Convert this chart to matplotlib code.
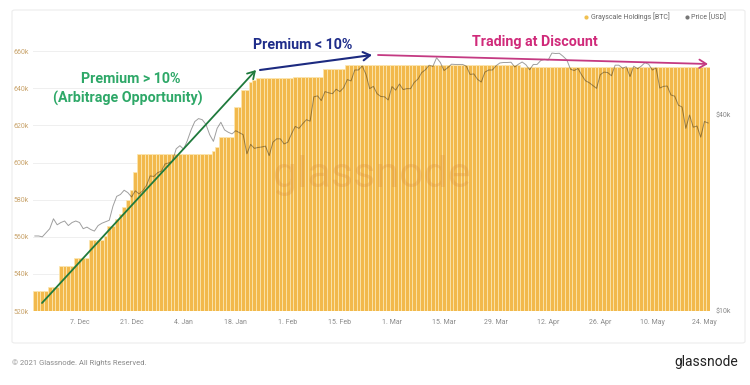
import matplotlib
matplotlib.use("Agg")
import matplotlib.pyplot as plt
import matplotlib.dates as mdates
import numpy as np
import pandas as pd
from matplotlib.lines import Line2D
from matplotlib.patches import FancyBboxPatch

plt.rcParams['font.family'] = ['Roboto', 'DejaVu Sans']

# Daily dates shown on the chart
dates = pd.date_range("2020-11-25", "2021-05-25", freq="D")

# Grayscale holdings (thousand BTC), read as steps: level and number of days it lasts
holdings_levels = [531.0, 533.0, 544.2, 548.5, 558.0, 560.5, 566.0, 569.5, 572.5, 576.0,
                   580.0, 585.0, 595.0, 604.5, 606.0, 608.3, 613.7, 629.8, 639.0, 643.3,
                   644.5, 645.5, 646.2, 650.3, 652.5, 651.3]
holdings_days = [4, 3, 4, 4, 4, 1, 2, 1, 1, 1,
                 1, 1, 1, 20, 1, 1, 4, 2, 2, 1,
                 1, 10, 8, 6, 47, 51]
holdings = np.repeat(holdings_levels, holdings_days)

# BTC price (thousand USD), daily
price = [
    17.0, 17.0, 16.9, 17.4, 17.9, 19.2,
    18.4, 18.7, 18.9, 18.3, 18.7, 18.9, 18.7, 17.9, 18.1, 17.8, 17.6, 18.3, 18.6, 18.8,
    19.0, 21.0, 22.5, 22.8, 23.5, 23.1, 22.4, 23.4, 22.9, 23.4, 24.3, 26.0, 25.9, 26.6,
    26.9, 28.3, 28.5,
    28.9, 31.5, 32.2, 31.4, 33.4, 36.0, 38.2, 39.0, 38.7, 37.4, 34.8, 33.2, 36.4, 38.0,
    36.0, 35.4, 35.0, 35.8, 35.3, 34.8, 30.4, 32.5, 31.6, 31.8, 31.9, 32.1, 30.0, 33.0,
    33.8, 33.8, 32.6,
    33.0, 35.0, 36.9, 36.4, 37.6, 38.7, 38.3, 45.5, 45.8, 44.3, 47.2, 46.8, 46.5, 48.0,
    47.2, 48.5, 51.4, 50.9, 55.0, 55.0, 56.6, 53.4, 48.2, 49.0, 46.5, 45.6, 45.5, 44.5,
    48.9, 47.7, 49.8, 47.9, 48.2, 48.2, 50.4, 51.6, 54.0, 55.1, 56.9, 56.4, 60.0, 58.0,
    54.8, 55.9, 57.3, 57.2, 57.2, 57.2, 56.5, 53.3, 53.5, 51.5, 50.5, 54.2, 55.0, 55.0,
    56.7, 57.8, 58.0,
    58.0, 58.1, 56.2, 57.3, 58.2, 57.1, 55.1, 57.2, 57.2, 58.8, 59.3, 59.0, 62.0, 61.8,
    61.9, 60.6, 59.1, 55.3, 54.8, 55.6, 53.1, 51.0, 50.3, 49.3, 48.3, 53.2, 54.2, 54.0,
    52.8, 56.9,
    56.9, 55.7, 56.3, 52.5, 56.5, 55.5, 56.5, 57.9, 57.3, 55.0, 55.8, 48.4, 49.0, 49.1,
    46.1, 45.7, 42.9, 42.3, 36.4, 40.0, 36.7, 37.0, 34.2, 38.2, 37.8,
]
price_usd = np.array(price) * 1000

left_ticks = [520, 540, 560, 580, 600, 620, 640, 660]
right_ticks = [10000, 40000]
right_labels = ["$10k", "$40k"]
xtick_dates = pd.date_range("2020-12-07", periods=13, freq="14D")

W, H = 750, 385
fig = plt.figure(figsize=(7.5, 3.85), dpi=100)


def fx(x):
    return x / W


def fy(y):
    return 1 - y / H


# card border
fig.add_artist(FancyBboxPatch((fx(12), fy(343)), fx(733), (333) / H,
                              boxstyle="round,pad=0,rounding_size=0.004",
                              transform=fig.transFigure, fc="none", ec="#ececec", lw=0.8))

ax = fig.add_axes([fx(33), fy(311), fx(677), (311 - 40) / H])
ax.bar(dates, holdings, width=1.0, color="#f2b94c", edgecolor="#fce7b2", linewidth=0.55,
       zorder=2)
ax.set_ylim(520, 666)
ax.set_xlim(pd.Timestamp("2020-11-24 12:00"), pd.Timestamp("2021-05-25 12:00"))
ax.set_yticks(left_ticks)
ax.set_yticklabels([f"{v}k" for v in left_ticks])
ax.grid(axis="y", color="#efefef", lw=0.7, zorder=0)
ax.set_axisbelow(True)
ax.tick_params(axis="y", length=0, pad=3, labelsize=5, labelcolor="#c9a46c")
ax.set_xticks(xtick_dates)
ax.xaxis.set_major_formatter(mdates.DateFormatter("%-d. %b"))
ax.tick_params(axis="x", length=0, pad=6, labelsize=5, labelcolor="#8a8a8a")
for s in ax.spines.values():
    s.set_visible(False)

# watermark
ax.text(0.5, 0.5, "glassnode", transform=ax.transAxes, ha="center", va="center",
        fontsize=31, color="#d98b3a", alpha=0.28, zorder=5)

ax2 = ax.twinx()
ax2.plot(dates, price_usd, color="#000000", alpha=0.38, lw=0.7)
ax2.set_yscale("log")
ax2.set_ylim(10000, 68000)
ax2.set_yticks(right_ticks)
ax2.set_yticklabels(right_labels)
ax2.yaxis.set_minor_locator(matplotlib.ticker.NullLocator())
ax2.tick_params(axis="y", length=0, pad=4, labelsize=5, labelcolor="#8a8a8a")
for s in ax2.spines.values():
    s.set_visible(False)

# annotation arrows
def arrow(x0, y0, x1, y1, color, lw):
    ax2.annotate("", xy=(fx(x1), fy(y1)), xytext=(fx(x0), fy(y0)),
                 xycoords="figure fraction", textcoords="figure fraction",
                 arrowprops=dict(arrowstyle="->,head_length=0.5,head_width=0.3",
                                 color=color, lw=lw, shrinkA=0, shrinkB=0),
                 annotation_clip=False)


arrow(42, 303, 256, 70, "#1f7a3c", 1.3)
arrow(260, 70, 372, 55, "#1c2a80", 1.5)
arrow(378, 55, 708, 64, "#c43a82", 1.3)

fig.text(fx(131), fy(79), "Premium > 10%", ha="center", va="center", fontsize=10.3,
         fontweight="bold", color="#2ea868")
fig.text(fx(128), fy(98), "(Arbitrage Opportunity)", ha="center", va="center",
         fontsize=10.3, fontweight="bold", color="#2ea868")
fig.text(fx(303), fy(45), "Premium < 10%", ha="center", va="center", fontsize=10.3,
         fontweight="bold", color="#1f2d8a")
fig.text(fx(535), fy(42), "Trading at Discount", ha="center", va="center", fontsize=10.3,
         fontweight="bold", color="#d02a7a")

# legend
handles = [Line2D([], [], ls="none", marker="o", ms=3, mfc="#f0c050", mec="none"),
           Line2D([], [], ls="none", marker="o", ms=3, mfc="#777777", mec="none")]
fig.legend(handles, ["Grayscale Holdings [BTC]", "Price [USD]"], loc="center right",
           bbox_to_anchor=(fx(732), fy(17)), ncol=2, frameon=False, fontsize=5,
           handletextpad=0.1, columnspacing=2.0, handlelength=1.0, labelcolor="#666666")

# footer
fig.text(fx(12), fy(363), "© 2021 Glassnode. All Rights Reserved.", ha="left", va="center",
         fontsize=5.5, color="#8a8a8a")
fig.text(fx(738), fy(362), "glassnode", ha="right", va="center", fontsize=10,
         color="#222222")

fig.savefig("out.png", dpi=100)
